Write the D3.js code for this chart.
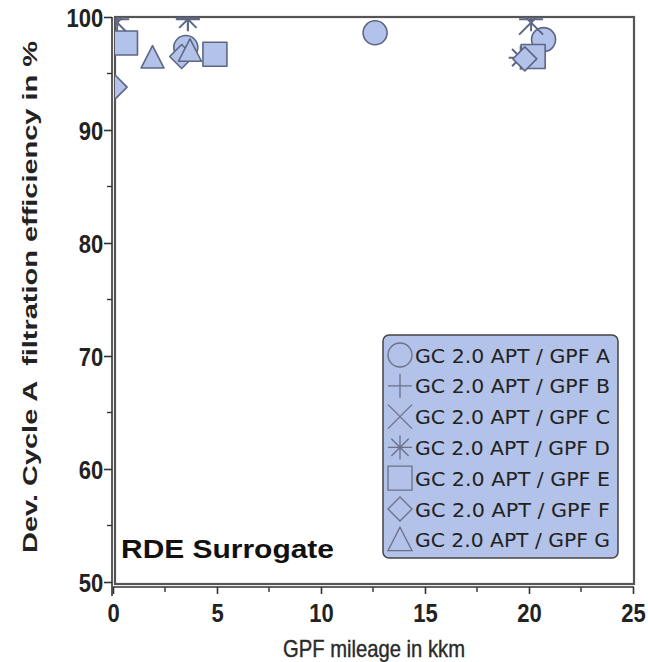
<!DOCTYPE html>
<html>
<head>
<meta charset="utf-8">
<script src="https://cdn.jsdelivr.net/npm/d3@7"></script>
<style>
  html, body { margin: 0; padding: 0; background: #fff; }
  svg { display: block; }
</style>
</head>
<body>
<svg id="chart" width="648" height="662"></svg>
<script>
// Series labels and marker shapes
const seriesNames = [
  "GC 2.0 APT / GPF A", "GC 2.0 APT / GPF B", "GC 2.0 APT / GPF C",
  "GC 2.0 APT / GPF D", "GC 2.0 APT / GPF E", "GC 2.0 APT / GPF F",
  "GC 2.0 APT / GPF G"
];
const seriesShapes = ["circle", "plus", "cross", "asterisk", "square", "diamond", "triangle"];

// Mileage (kkm) and filtration efficiency (%) per series
const mileageA = [3.5, 12.6, 20.7];
const effA     = [97.3, 98.6, 98.0];
const mileageB = [0.2, 3.6, 20.1];
const effB     = [99.8, 99.9, 99.8];
const mileageC = [0.2, 20.1];
const effC     = [99.5, 99.5];
const mileageD = [3.6, 19.6];
const effD     = [99.8, 96.4];
const mileageE = [0.6, 4.9, 20.2];
const effE     = [97.7, 96.7, 96.5];
const mileageF = [0.1, 3.3, 19.8];
const effF     = [93.8, 96.5, 96.3];
const mileageG = [1.9, 3.7];
const effG     = [96.4, 97.0];

const xTicks = [0, 5, 10, 15, 20, 25];
const yTicks = [50, 60, 70, 80, 90, 100];

const seriesX = [mileageA, mileageB, mileageC, mileageD, mileageE, mileageF, mileageG];
const seriesY = [effA, effB, effC, effD, effE, effF, effG];

const fillCol = "#b3c2e8";
const strokeCol = "#5d6685";
const axisCol = "#333";
const tickFont = "'Liberation Sans', Arial, sans-serif";

const svg = d3.select("#chart");
const frameL = 115, frameR = 634, frameT = 17, frameB = 584;

const x = d3.scaleLinear().domain([0, 25]).range([113, 633]);
const y = d3.scaleLinear().domain([50, 100]).range([582, 17]);

// marker path generator, centred on 0,0
function markerPath(shape, s) {
  const h = s / 2;
  switch (shape) {
    case "circle": return d3.symbol().type(d3.symbolCircle).size(Math.PI * h * h)();
    case "square": return `M${-h},${-h}H${h}V${h}H${-h}Z`;
    case "diamond": return `M0,${-h}L${h},0L0,${h}L${-h},0Z`;
    case "triangle": return `M0,${-h * 1.05}L${h * 1.0},${h * 0.9}L${-h * 1.0},${h * 0.9}Z`;
    case "plus": return `M${-h},0H${h}M0,${-h}V${h}`;
    case "cross": return `M${-h},${-h}L${h},${h}M${h},${-h}L${-h},${h}`;
    case "asterisk": {
      const d = h * 0.72;
      return `M${-h},0H${h}M0,${-h}V${h}M${-d},${-d}L${d},${d}M${d},${-d}L${-d},${d}`;
    }
  }
}
const isLine = s => s === "plus" || s === "cross" || s === "asterisk";

// clip to plot frame
svg.append("defs").append("clipPath").attr("id", "plotClip")
  .append("rect").attr("x", frameL).attr("y", frameT).attr("width", frameR - frameL).attr("height", frameB - frameT);

// plot frame
svg.append("rect")
  .attr("x", frameL).attr("y", frameT).attr("width", frameR - frameL).attr("height", frameB - frameT)
  .attr("fill", "#fff").attr("stroke", "#555").attr("stroke-width", 2.2);

// markers
const plotG = svg.append("g").attr("clip-path", "url(#plotClip)");
seriesShapes.forEach((shape, i) => {
  const pts = seriesX[i].map((v, j) => [v, seriesY[i][j]]);
  plotG.selectAll(null).data(pts).enter().append("path")
    .attr("transform", d => `translate(${x(d[0])},${y(d[1])})`)
    .attr("d", markerPath(shape, shape === "triangle" ? 23 : 24))
    .attr("fill", isLine(shape) ? "none" : fillCol)
    .attr("stroke", strokeCol)
    .attr("stroke-width", isLine(shape) ? 2 : 1.6)
    .attr("stroke-linejoin", "round");
});

// y axis
const yAxis = d3.axisLeft(y).tickValues(yTicks).tickSize(8).tickFormat(d3.format("d"));
const yG = svg.append("g").attr("transform", "translate(112,0)").call(yAxis);
yG.select(".domain").attr("d", `M0,${frameT}V${frameB + 12}`).attr("stroke", axisCol).attr("stroke-width", 1.6);
yG.selectAll(".tick line").attr("stroke", axisCol).attr("stroke-width", 1.6);
yG.selectAll(".tick text")
  .attr("font-family", tickFont).attr("font-weight", "bold").attr("font-size", 25)
  .attr("fill", "#222").attr("x", -10).attr("dy", "0.36em")
  .attr("transform", "scale(0.88,1)");
// y minor ticks
svg.append("g").selectAll("line").data(d3.range(55, 100, 10)).enter().append("line")
  .attr("x1", 107).attr("x2", 112).attr("y1", d => y(d)).attr("y2", d => y(d))
  .attr("stroke", axisCol).attr("stroke-width", 1.4);

// x axis
const xAxis = d3.axisBottom(x).tickValues(xTicks).tickSize(7).tickFormat(d3.format("d"));
const xG = svg.append("g").attr("transform", "translate(0,587)").call(xAxis);
xG.select(".domain").attr("d", `M113,0H634`).attr("stroke", axisCol).attr("stroke-width", 1.6);
xG.selectAll(".tick line").attr("stroke", axisCol).attr("stroke-width", 1.6);
xG.selectAll(".tick text")
  .attr("font-family", tickFont).attr("font-weight", "bold").attr("font-size", 25)
  .attr("fill", "#222").attr("y", 35).attr("dy", 0)
  .attr("transform", "scale(0.88,1)");
svg.append("g").selectAll("line").data(d3.range(2.5, 25, 5)).enter().append("line")
  .attr("x1", d => x(d)).attr("x2", d => x(d)).attr("y1", 587).attr("y2", 592)
  .attr("stroke", axisCol).attr("stroke-width", 1.4);

// axis titles
svg.append("text")
  .attr("x", 374).attr("y", 657).attr("text-anchor", "middle")
  .attr("font-family", tickFont).attr("font-size", 24).attr("fill", "#2a2a2a")
  .attr("stroke", "#2a2a2a").attr("stroke-width", 0.4)
  .attr("textLength", 182).attr("lengthAdjust", "spacingAndGlyphs")
  .text("GPF mileage in kkm");
svg.append("text")
  .attr("transform", "translate(37,297) rotate(-90)").attr("text-anchor", "middle")
  .attr("font-family", tickFont).attr("font-weight", "bold").attr("font-size", 21).attr("fill", "#222")
  .attr("textLength", 512).attr("lengthAdjust", "spacingAndGlyphs")
  .attr("xml:space", "preserve")
  .text("Dev. Cycle A  filtration efficiency in %");

// annotation
svg.append("text")
  .attr("x", 121).attr("y", 558)
  .attr("font-family", tickFont).attr("font-weight", "bold").attr("font-size", 25).attr("fill", "#111")
  .attr("textLength", 213).attr("lengthAdjust", "spacingAndGlyphs")
  .text("RDE Surrogate");

// legend
const lg = svg.append("g").attr("transform", "translate(383,335)");
lg.append("rect").attr("width", 235).attr("height", 223).attr("rx", 6)
  .attr("fill", fillCol).attr("stroke", "#444").attr("stroke-width", 1.5);
seriesNames.forEach((name, i) => {
  const cy = 20 + i * 30.8;
  lg.append("path")
    .attr("transform", `translate(17,${cy})`)
    .attr("d", markerPath(seriesShapes[i], 24))
    .attr("fill", "none").attr("stroke", "#6a7088").attr("stroke-width", 1.3);
  lg.append("text").attr("x", 32).attr("y", cy + 7.5)
    .attr("font-family", "'DejaVu Sans', Verdana, sans-serif")
    .attr("font-size", 20).attr("fill", "#222")
    .attr("textLength", 195).attr("lengthAdjust", "spacingAndGlyphs")
    .text(name);
});
</script>
</body>
</html>
